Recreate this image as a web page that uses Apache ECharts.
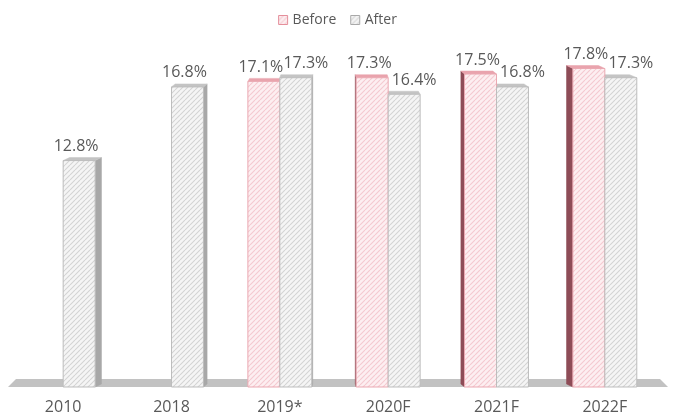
<!DOCTYPE html>
<html>
<head>
<meta charset="utf-8">
<script src="https://cdn.jsdelivr.net/npm/echarts@6/dist/echarts.min.js"></script>
<style>
  html, body { margin: 0; padding: 0; background: #fff; }
  #chart { width: 675px; height: 417px; }
</style>
</head>
<body>
<div id="chart"></div>
<script>
// Categories and the two series (share, %)
const categories = ['2010', '2018', '2019*', '2020F', '2021F', '2022F'];
const beforeValues = [null, null, 17.1, 17.3, 17.5, 17.8];
const afterValues = [12.8, 16.8, 17.3, 16.4, 16.8, 17.3];

const Y_MIN = 0.5;
const Y_MAX = 20;
const TEXT = '#595959';
const FONT = '"Open Sans", "Noto Sans", sans-serif';

// Diagonal hatch fill used on the bar fronts and legend keys
function hatch(bg, line) {
  const c = document.createElement('canvas');
  const s = 5;
  c.width = s; c.height = s;
  const g = c.getContext('2d');
  g.fillStyle = bg;
  g.fillRect(0, 0, s, s);
  g.strokeStyle = line;
  g.lineWidth = 1.1;
  g.beginPath();
  for (let k = -1; k <= 1; k++) {
    g.moveTo(k * s, s);
    g.lineTo(k * s + s, 0);
  }
  g.stroke();
  return { image: c, repeat: 'repeat' };
}

const styles = {
  Before: {
    front: hatch('#fdeff1', '#f5c9cf'),
    border: '#eaa9b2',
    top: '#e9a3ad',
    side: '#8e4c57'
  },
  After: {
    front: hatch('#f5f5f5', '#d3d3d3'),
    border: '#bdbdbd',
    top: '#c4c4c4',
    side: '#a8a8a8'
  }
};

function make3DBar(name, values) {
  const st = styles[name];
  const isBefore = name === 'Before';
  return {
    name: name,
    type: 'custom',
    itemStyle: { color: st.front, borderColor: st.border },
    data: values.map((v, i) => [i, v == null ? '-' : v]),
    encode: { x: 0, y: 1 },
    renderItem: function (params, api) {
      const v = api.value(1);
      if (isNaN(v)) return null;
      const ci = api.value(0);
      const topPt = api.coord([ci, v]);
      const basePt = api.coord([ci, Y_MIN]);
      const band = api.size([1, 0])[0];
      const w = band * 0.295;
      const xc = topPt[0] + (isBefore ? -w / 2 : w / 2);
      const x0 = xc - w / 2, x1 = xc + w / 2;
      const yt = topPt[1], yb = basePt[1];
      const cs = params.coordSys;
      const vpX = cs.x + cs.width / 2;
      const dx = (vpX - xc) * 0.025;
      const dy = -3;
      const sx = dx >= 0 ? x1 : x0;
      const paired = !isBefore && beforeValues[ci] != null;
      const children = [
        {
          type: 'polygon', z2: 1,
          shape: { points: [[sx, yt], [sx + dx, yt + dy], [sx + dx, yb + dy], [sx, yb]] },
          style: { fill: st.side, stroke: st.side, lineWidth: 0.5 }
        },
        {
          type: 'polygon', z2: 2,
          shape: { points: [[x0, yt], [x0 + dx, yt + dy], [x1 + dx, yt + dy], [x1, yt]] },
          style: { fill: st.top, stroke: st.top, lineWidth: 0.5 }
        },
        {
          type: 'rect', z2: 10,
          shape: { x: x0, y: yt, width: w, height: yb - yt },
          style: { fill: st.front, stroke: st.border, lineWidth: 1 }
        },
        {
          type: 'text', z2: 20,
          x: xc + (paired ? 10 : -3), y: yt + dy - 3,
          style: {
            text: v.toFixed(1) + '%',
            fill: TEXT,
            font: '16px ' + FONT,
            align: 'center',
            verticalAlign: 'bottom'
          }
        }
      ];
      return { type: 'group', children: children };
    }
  };
}

const chart = echarts.init(document.getElementById('chart'), null, { renderer: 'canvas' });

const option = {
  animation: false,
  backgroundColor: '#ffffff',
  legend: {
    top: 8,
    left: 'center',
    itemWidth: 9,
    itemHeight: 9,
    itemGap: 14,
    textStyle: { color: TEXT, fontSize: 14, fontFamily: FONT },
    data: [
      { name: 'Before', icon: 'rect', itemStyle: { color: styles.Before.front, borderColor: '#e58f9b', borderWidth: 1 } },
      { name: 'After', icon: 'rect', itemStyle: { color: styles.After.front, borderColor: '#a9a9a9', borderWidth: 1 } }
    ]
  },
  grid: { left: 9, right: 16, top: 28, bottom: 30 },
  xAxis: {
    type: 'category',
    data: categories,
    axisLine: { show: false },
    axisTick: { show: false },
    axisLabel: { color: TEXT, fontSize: 16, fontFamily: FONT, margin: 12 }
  },
  yAxis: {
    type: 'value',
    min: Y_MIN,
    max: Y_MAX,
    show: false,
    splitLine: { show: false }
  },
  series: [make3DBar('Before', beforeValues), make3DBar('After', afterValues)]
};

chart.setOption(option);

// Grey floor slab under the columns, placed from the axis baseline
const floorY = chart.convertToPixel({ yAxisIndex: 0 }, Y_MIN);
chart.setOption({
  graphic: [{
    type: 'polygon',
    z: -1,
    shape: { points: [[8, floorY], [668, floorY], [660, floorY - 8], [16, floorY - 8]] },
    style: { fill: '#c2c2c2' },
    silent: true
  }]
});
</script>
</body>
</html>
